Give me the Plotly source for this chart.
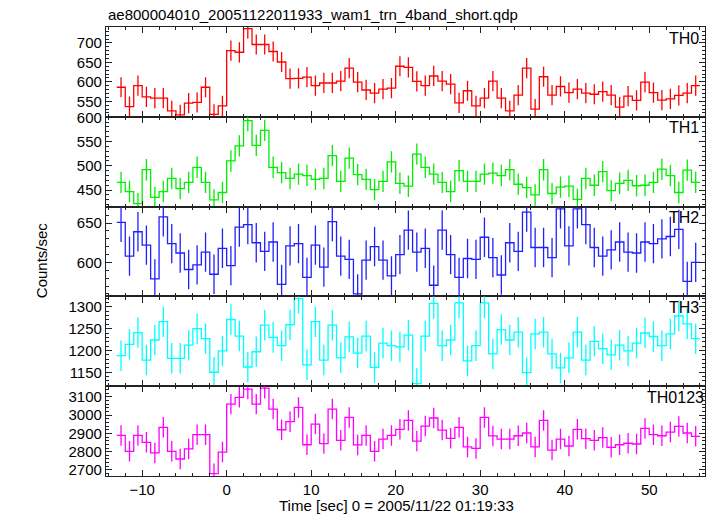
import plotly.graph_objects as go
from plotly.subplots import make_subplots

# Bin start times [sec] (1 s bins), 0 = 2005/11/22 01:19:33
time_bins = list(range(-13, 56))
bin_width = 1.0

th0 = [586, 536, 590, 561, 558, 558, 525, 515, 545, 547,
       586, 516, 538, 680, 676, 737, 696, 696, 678, 651,
       608, 609, 612, 590, 597, 597, 602, 635, 599, 579,
       571, 581, 584, 640, 637, 601, 590, 615, 602, 594,
       546, 577, 538, 558, 602, 558, 525, 566, 635, 530,
       613, 566, 588, 572, 581, 571, 568, 575, 566, 535,
       563, 552, 599, 572, 553, 556, 565, 571, 590]
th1 = [466, 447, 422, 492, 435, 447, 474, 453, 466, 497,
       466, 430, 445, 510, 541, 593, 542, 573, 497, 486,
       474, 483, 480, 472, 474, 521, 468, 516, 482, 472,
       451, 468, 508, 464, 458, 524, 497, 483, 466, 447,
       490, 468, 468, 483, 485, 480, 492, 462, 455, 440,
       492, 443, 456, 458, 431, 474, 460, 488, 449, 464,
       470, 459, 460, 466, 493, 480, 445, 491, 466]
th2 = [651, 608, 639, 622, 579, 658, 624, 612, 591, 597,
       613, 585, 618, 596, 645, 648, 625, 614, 626, 572,
       621, 624, 581, 622, 594, 652, 608, 604, 560, 603,
       620, 603, 583, 610, 641, 613, 618, 571, 641, 610,
       581, 605, 604, 632, 606, 584, 625, 614, 664, 619,
       619, 606, 668, 621, 668, 648, 619, 608, 616, 626,
       613, 612, 626, 624, 630, 633, 642, 576, 600]
th3 = [1188, 1214, 1241, 1178, 1224, 1266, 1182, 1182, 1212, 1250,
       1227, 1150, 1199, 1271, 1233, 1162, 1197, 1258, 1230, 1211,
       1259, 1319, 1167, 1266, 1178, 1258, 1183, 1231, 1194, 1233,
       1161, 1217, 1211, 1208, 1235, 1124, 1233, 1308, 1211, 1224,
       1309, 1176, 1211, 1309, 1192, 1248, 1224, 1242, 1149, 1238,
       1242, 1192, 1160, 1183, 1242, 1178, 1221, 1204, 1190, 1212,
       1199, 1217, 1240, 1232, 1211, 1238, 1279, 1261, 1227]
th0123 = [2889, 2802, 2889, 2851, 2793, 2933, 2802, 2760, 2815, 2893,
          2893, 2680, 2798, 3060, 3097, 3142, 3060, 3147, 3033, 2920,
          2964, 3042, 2838, 2951, 2844, 3033, 2862, 2987, 2837, 2889,
          2802, 2869, 2889, 2922, 2971, 2858, 2940, 2984, 2918, 2873,
          2933, 2826, 2818, 2987, 2886, 2869, 2869, 2887, 2902, 2826,
          2971, 2809, 2869, 2831, 2922, 2871, 2862, 2877, 2824, 2838,
          2846, 2842, 2927, 2893, 2887, 2907, 2938, 2902, 2884]

# typical 1-sigma error per panel (counts/sec)
panel_names = ["TH0", "TH1", "TH2", "TH3", "TH0123"]
panel_values = [th0, th1, th2, th3, th0123]
panel_errors = [26, 22, 25, 35, 56]
panel_colors = ["#ff0000", "#00ee00", "#2020ff", "#00ffff", "#ff00ff"]
panel_ranges = [[510, 741], [416, 601], [556.8, 671], [1118, 1324], [2667, 3158]]
panel_dtick = [50, 50, 50, 50, 100]
panel_minor = [10, 10, 10, 10, 20]
label_right_px = [703, 703, 703, 703, 708]

W, H = 717, 516
ML, MR, MT, MB = 106, 10.3, 27, 40
PW = W - ML - MR
PH = H - MT - MB

FONT = "Liberation Sans, Arial, Helvetica, sans-serif"

fig = make_subplots(rows=5, cols=1, shared_xaxes=True, vertical_spacing=0)

for i, (name, vals, err, color) in enumerate(
        zip(panel_names, panel_values, panel_errors, panel_colors), start=1):
    edges_x = list(time_bins) + [time_bins[-1] + bin_width]
    edges_y = list(vals) + [vals[-1]]
    fig.add_trace(go.Scatter(
        x=edges_x, y=edges_y, mode="lines",
        line=dict(shape="hv", color=color, width=1.3),
        showlegend=False, hoverinfo="skip"), row=i, col=1)
    centers = [t + bin_width / 2 for t in time_bins]
    fig.add_trace(go.Scatter(
        x=centers, y=vals, mode="markers",
        marker=dict(size=1, color=color, opacity=0),
        error_y=dict(type="constant", value=err, width=0,
                     thickness=1.3, color=color),
        showlegend=False), row=i, col=1)

axis_common = dict(showline=True, linecolor="#222222", linewidth=1.2,
                   mirror="ticks", ticks="inside", ticklen=6, tickwidth=1,
                   tickcolor="#222222", showgrid=False, zeroline=False,
                   tickfont=dict(family=FONT, size=15, color="black"))

for i in range(1, 6):
    fig.update_xaxes(range=[-14.28, 56.6], tick0=0, dtick=10,
                     minor=dict(dtick=2, ticks="inside", ticklen=3,
                                tickcolor="#222222", showgrid=False),
                     row=i, col=1, **axis_common)
    fig.update_yaxes(range=panel_ranges[i - 1], tick0=0,
                     dtick=panel_dtick[i - 1],
                     minor=dict(dtick=panel_minor[i - 1], ticks="inside",
                                ticklen=3, tickcolor="#222222", showgrid=False),
                     row=i, col=1, **axis_common)

annotations = []
# title
annotations.append(dict(
    text="ae800004010_20051122011933_wam1_trn_4band_short.qdp",
    xref="paper", yref="paper", x=0, y=1 + (MT - 14.5) / PH,
    xanchor="left", yanchor="middle", showarrow=False,
    font=dict(family=FONT, size=15, color="black")))
# x title
annotations.append(dict(
    text="Time [sec] 0 = 2005/11/22 01:19:33",
    xref="paper", yref="paper", x=(397 - ML) / PW, y=-(506 - MT - PH) / PH,
    xanchor="center", yanchor="middle", showarrow=False,
    font=dict(family=FONT, size=15, color="black")))
# y title
annotations.append(dict(
    text="Counts/sec", textangle=-90,
    xref="paper", yref="paper", x=(41 - ML) / PW, y=1 - (260 - MT) / PH,
    xanchor="center", yanchor="middle", showarrow=False,
    font=dict(family=FONT, size=15, color="black")))
# panel labels
panel_h = PH / 5
for i, name in enumerate(panel_names):
    ypx = MT + i * panel_h + 11
    annotations.append(dict(
        text=name, xref="paper", yref="paper",
        x=(label_right_px[i] - ML) / PW, y=1 - (ypx - MT) / PH,
        xanchor="right", yanchor="middle", showarrow=False,
        font=dict(family=FONT, size=16, color="black")))

fig.update_layout(
    width=W, height=H,
    margin=dict(l=ML, r=MR, t=MT, b=MB, pad=0),
    paper_bgcolor="white", plot_bgcolor="white",
    annotations=annotations,
    font=dict(family=FONT, size=15, color="black"),
)

fig.write_html(
    "out.html",
    config={"displayModeBar": False},
    post_script="document.body.style.margin='0px';"
                "document.body.style.overflow='hidden';",
)
